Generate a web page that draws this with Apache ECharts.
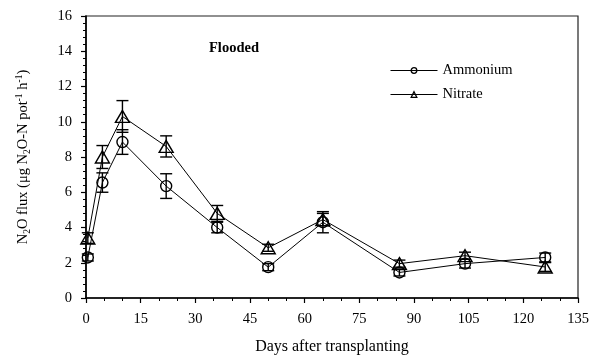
<!DOCTYPE html>
<html><head><meta charset="utf-8">
<script src="https://cdn.jsdelivr.net/npm/echarts@6/dist/echarts.min.js"></script>
<style>html,body{margin:0;padding:0;background:#fff}#c{width:599px;height:355px}</style>
</head><body><div id="c"></div>
<script>
const days = [0.5, 4.5, 10, 22, 36, 50, 65, 86, 104, 126];
const ammonium = [2.3, 6.55, 8.85, 6.35, 4.0, 1.75, 4.3, 1.45, 1.95, 2.3];
const ammoniumErr = [0.2, 0.55, 0.7, 0.7, 0.3, 0.2, 0.6, 0.2, 0.25, 0.25];
const nitrate = [3.4, 8.0, 10.3, 8.6, 4.8, 2.85, 4.45, 1.95, 2.4, 1.76];
const nitrateErr = [0.3, 0.65, 0.9, 0.6, 0.45, 0.2, 0.35, 0.2, 0.2, 0.25];
const seriesNames = ['Ammonium', 'Nitrate'];
const panelLabel = 'Flooded';
const xTitle = 'Days after transplanting';

const serif = '"Liberation Serif", "Times New Roman", serif';
const chart = echarts.init(document.getElementById('c'));

function errData(xs, ys, es) {
  return xs.map((x, i) => [x, ys[i] - es[i], ys[i] + es[i]]);
}
function errSeries(name, data) {
  return {
    type: 'custom', name: name + ' err', silent: true, z: 5,
    data: data,
    encode: { x: 0, y: [1, 2] },
    renderItem: function (params, api) {
      const x = api.value(0);
      const lo = api.coord([x, api.value(1)]);
      const hi = api.coord([x, api.value(2)]);
      const w = 6;
      const st = { stroke: '#000', lineWidth: 1.4, fill: null };
      return {
        type: 'group',
        children: [
          { type: 'line', shape: { x1: lo[0], y1: lo[1], x2: hi[0], y2: hi[1] }, style: st },
          { type: 'line', shape: { x1: lo[0] - w, y1: lo[1], x2: lo[0] + w, y2: lo[1] }, style: st },
          { type: 'line', shape: { x1: hi[0] - w, y1: hi[1], x2: hi[0] + w, y2: hi[1] }, style: st }
        ]
      };
    }
  };
}

chart.setOption({
  animation: false,
  backgroundColor: '#fff',
  grid: { left: 86, top: 16, right: 21, bottom: 57, show: true, borderColor: '#222', borderWidth: 1.2, backgroundColor: 'transparent', containLabel: false, outerBoundsMode: 'none' },
  title: {
    text: panelLabel, left: 204, top: 36,
    textStyle: { fontFamily: serif, fontSize: 14.5, fontWeight: 'bold', color: '#000' }
  },
  legend: {
    left: 385, top: 58, orient: 'vertical', itemGap: 9,
    itemWidth: 47, itemHeight: 7,
    data: seriesNames,
    lineStyle: { width: 1 },
    itemStyle: { borderWidth: 1.3 },
    textStyle: { fontFamily: serif, fontSize: 14.5, color: '#000' }
  },
  xAxis: {
    type: 'value', min: 0, max: 135, interval: 15,
    name: xTitle, nameLocation: 'middle', nameGap: 41,
    nameTextStyle: { fontFamily: serif, fontSize: 16, color: '#000' },
    axisLine: { lineStyle: { color: '#000', width: 1.6 } },
    axisTick: { show: true, length: 5, lineStyle: { color: '#000', width: 1.2 } },
    minorTick: { show: true, splitNumber: 3, length: 3, lineStyle: { color: '#000' } },
    splitLine: { show: false },
    axisLabel: { fontFamily: serif, fontSize: 14.5, color: '#000', margin: 14 }
  },
  yAxis: {
    type: 'value', min: 0, max: 16, interval: 2,
    name: '{n|N}{s|2}{n|O flux (μg N}{s|2}{n|O-N pot}{p|-1}{n| h}{p|-1}{n|)}',
    nameLocation: 'middle', nameGap: 54,
    nameTextStyle: {
      fontFamily: serif, fontSize: 14.5, color: '#000',
      rich: {
        n: { fontFamily: serif, fontSize: 14.5, lineHeight: 18, color: '#000' },
        s: { fontFamily: serif, fontSize: 9.5, lineHeight: 9, verticalAlign: 'bottom', color: '#000' },
        p: { fontFamily: serif, fontSize: 9.5, lineHeight: 9, verticalAlign: 'top', color: '#000' }
      }
    },
    axisLine: { show: true, lineStyle: { color: '#000', width: 1.6 } },
    axisTick: { show: true, length: 5, lineStyle: { color: '#000', width: 1.2 } },
    minorTick: { show: true, splitNumber: 5, length: 3, lineStyle: { color: '#000' } },
    splitLine: { show: false },
    axisLabel: { fontFamily: serif, fontSize: 14.5, color: '#000', margin: 14 }
  },
  series: [
    {
      name: seriesNames[0], type: 'line', z: 3,
      data: days.map((d, i) => [d, ammonium[i]]),
      symbol: 'circle', symbolSize: 11,
      itemStyle: { color: 'rgba(255,255,255,0)', borderColor: '#000', borderWidth: 1.4 },
      lineStyle: { color: '#000', width: 1 }
    },
    {
      name: seriesNames[1], type: 'line', z: 3,
      data: days.map((d, i) => [d, nitrate[i]]),
      symbol: 'triangle', symbolSize: [14, 12],
      itemStyle: { color: 'rgba(255,255,255,0)', borderColor: '#000', borderWidth: 1.4 },
      lineStyle: { color: '#000', width: 1 }
    },
    errSeries(seriesNames[0], errData(days, ammonium, ammoniumErr)),
    errSeries(seriesNames[1], errData(days, nitrate, nitrateErr))
  ]
});
</script>
</body></html>
